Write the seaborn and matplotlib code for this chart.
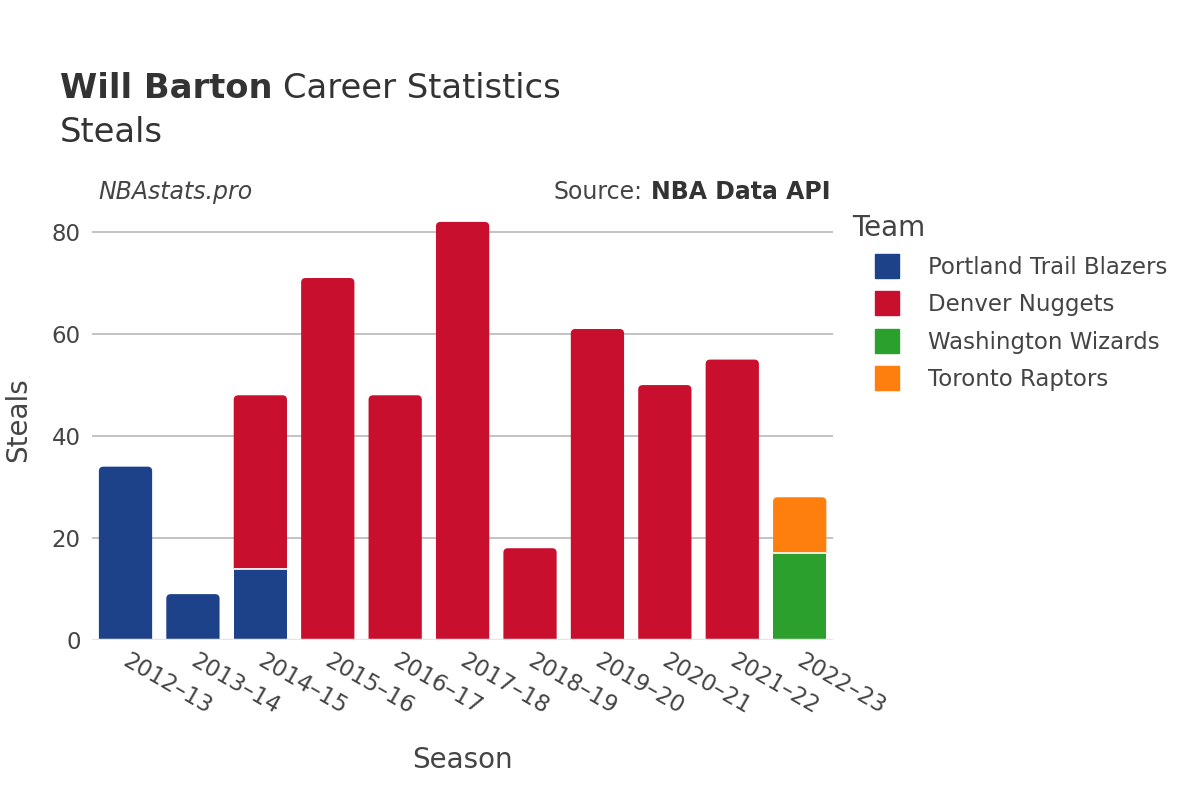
import numpy as np
import pandas as pd
import seaborn as sns
import matplotlib.pyplot as plt
import matplotlib.transforms as mtransforms
from matplotlib.lines import Line2D
from matplotlib.patches import PathPatch
from matplotlib.path import Path

# Data
seasons = ['2012–13', '2013–14', '2014–15', '2015–16', '2016–17', '2017–18',
           '2018–19', '2019–20', '2020–21', '2021–22', '2022–23']
teams = ['Portland Trail Blazers', 'Denver Nuggets', 'Washington Wizards', 'Toronto Raptors']
portland = [34, 9, 14, 0, 0, 0, 0, 0, 0, 0, 0]
denver = [0, 0, 34, 71, 48, 82, 18, 61, 50, 55, 0]
washington = [0, 0, 0, 0, 0, 0, 0, 0, 0, 0, 17]
toronto = [0, 0, 0, 0, 0, 0, 0, 0, 0, 0, 11]
team_colors = ['#1d428a', '#c8102e', '#2ca02c', '#ff7f0e']

sns.set_theme(style='white')
plt.rcParams['font.family'] = ['DejaVu Sans']
text_color = '#444444'

fig = plt.figure(figsize=(12, 8), dpi=100)
ax = fig.add_axes([0.0765, 0.2, 0.618, 0.55])

# Stacked bars, one layer per team
bottom = np.zeros(len(seasons))
for team, vals, col in zip(teams, [portland, denver, washington, toronto], team_colors):
    df = pd.DataFrame({'Season': seasons, 'Steals': vals})
    sns.barplot(data=df, x='Season', y='Steals', color=col, saturation=1, bottom=bottom,
                width=0.79, edgecolor='none', linewidth=0, ax=ax, zorder=3)
    bottom = bottom + np.array(vals)

ymax = 86.3
ax.set_ylim(0, ymax)
ax.set_xlim(-0.5, len(seasons) - 0.5)

# round the top corners of each stack, white line between stacked segments
totals = bottom
ax_w_px = 0.618 * 1200
ax_h_px = 0.55 * 800
rx = 4.5 * len(seasons) / ax_w_px
ry = 4.5 * ymax / ax_h_px
for p in [p for p in ax.patches if p.get_height() > 0]:
    x0, y0, w, h = p.get_x(), p.get_y(), p.get_width(), p.get_height()
    x1, y1 = x0 + w, y0 + h
    col = p.get_facecolor()
    if y0 > 0:
        ax.hlines(y0, x0, x1, color='white', linewidth=1.2, zorder=5)
    idx = int(round(x0 + w / 2))
    if abs(y1 - totals[idx]) < 1e-9:
        p.set_visible(False)
        verts = [(x0, y0), (x0, y1 - ry), (x0, y1), (x0 + rx, y1), (x1 - rx, y1),
                 (x1, y1), (x1, y1 - ry), (x1, y0), (x0, y0)]
        codes = [Path.MOVETO, Path.LINETO, Path.CURVE3, Path.CURVE3, Path.LINETO,
                 Path.CURVE3, Path.CURVE3, Path.LINETO, Path.CLOSEPOLY]
        ax.add_patch(PathPatch(Path(verts, codes), facecolor=col, edgecolor='none', zorder=3))

ax.set_yticks([0, 20, 40, 60, 80])
for y in [20, 40, 60, 80]:
    ax.axhline(y, color='#b3b3b3', linewidth=1.1, zorder=1)
ax.axhline(0, color='#e6e6e6', linewidth=2.5, zorder=4)
for s in ax.spines.values():
    s.set_visible(False)

ax.tick_params(axis='both', length=0, labelsize=16.5, colors=text_color)
ax.tick_params(axis='x', pad=7)
ax.tick_params(axis='y', pad=8)
shift = mtransforms.ScaledTranslation(5 / 100, 0, fig.dpi_scale_trans)
for lbl in ax.get_xticklabels():
    lbl.set_rotation(-30)
    lbl.set_ha('left')
    lbl.set_rotation_mode('anchor')
    lbl.set_transform(lbl.get_transform() + shift)
ax.set_xlabel('Season', fontsize=20, color=text_color, labelpad=19)
ax.set_ylabel('Steals', fontsize=20, color=text_color, labelpad=14)

# Titles and notes
fig.canvas.draw()
renderer = fig.canvas.get_renderer()
t1 = fig.text(0.05, 0.889, 'Will Barton', fontsize=24.3, fontweight='bold', color='#333333', va='center')
w1 = t1.get_window_extent(renderer).width / fig.bbox.width
fig.text(0.05 + w1 + 0.009, 0.889, 'Career Statistics', fontsize=24.3, color='#333333', va='center')
fig.text(0.05, 0.835, 'Steals', fontsize=24.3, color='#333333', va='center')
fig.text(0.0817, 0.76, 'NBAstats.pro', fontsize=17, style='italic', color=text_color, va='center')
t2 = fig.text(0.692, 0.76, 'NBA Data API', fontsize=17, fontweight='bold', color='#333333',
              va='center', ha='right')
w2 = t2.get_window_extent(renderer).width / fig.bbox.width
fig.text(0.692 - w2 - 0.007, 0.76, 'Source:', fontsize=17, color=text_color, va='center', ha='right')

# Legend
handles = [Line2D([0], [0], marker='s', linestyle='', markersize=17, markerfacecolor=c,
                  markeredgecolor=c) for c in team_colors]
leg = fig.legend(handles, teams, title='Team', loc='upper left', bbox_to_anchor=(0.7025, 0.744),
                 frameon=False, fontsize=16.5, title_fontsize=20, handlelength=3.05,
                 handletextpad=0.26, labelspacing=0.62, borderaxespad=0)
leg._legend_box.align = 'left'
for t in leg.get_texts():
    t.set_color(text_color)
leg.get_title().set_color(text_color)

fig.savefig('out.png', dpi=100, facecolor='white')
